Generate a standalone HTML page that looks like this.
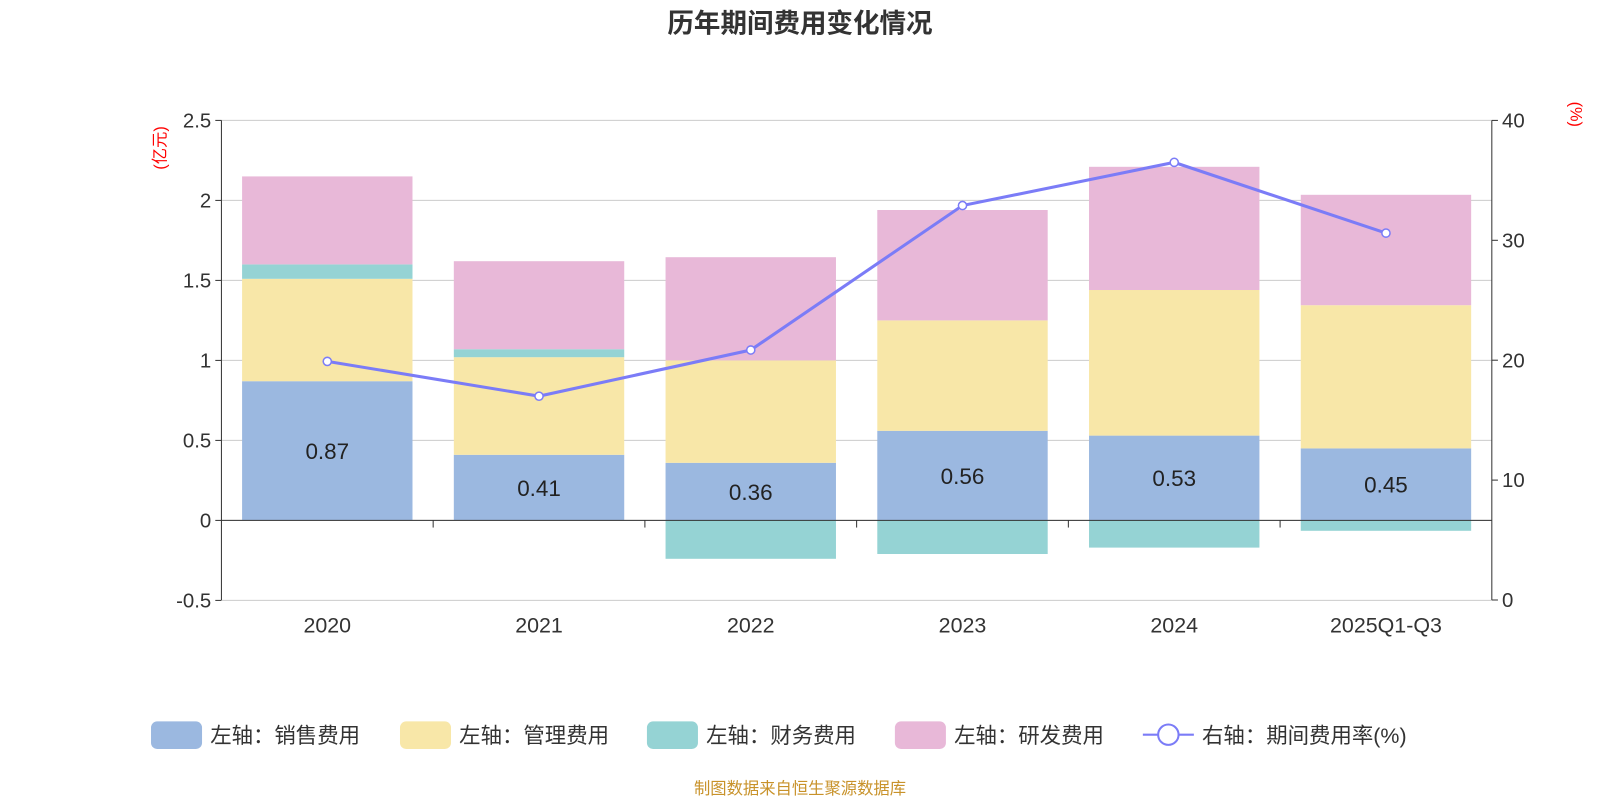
<!DOCTYPE html>
<html><head><meta charset="utf-8"><style>
body{margin:0;background:#fff;font-family:"Liberation Sans","Noto Sans CJK SC",sans-serif;}
svg text{font-family:"Liberation Sans","Noto Sans CJK SC",sans-serif;}
</style></head><body>
<svg width="1600" height="800">
<g id="c" transform="scale(1.0204)">
<text x="784" y="32" text-anchor="middle" font-size="26" font-weight="bold" fill="#333">历年期间费用变化情况</text>
<text x="784" y="778" text-anchor="middle" font-size="16" fill="#c8922a">制图数据来自恒生聚源数据库</text>
</g>
</svg>
<script>
const categories=["2020","2021","2022","2023","2024","2025Q1-Q3"];
const sales=[0.87,0.41,0.36,0.56,0.53,0.45];
const mgmt=[0.64,0.61,0.64,0.69,0.91,0.895];
const fin=[0.09,0.05,-0.24,-0.21,-0.17,-0.065];
const rnd=[0.55,0.55,0.645,0.69,0.77,0.69];
const rate=[19.9,17.0,20.85,32.9,36.5,30.6];
const leftTicks=[-0.5,0,0.5,1,1.5,2,2.5];
const rightTicks=[0,10,20,30,40];
const NS="http://www.w3.org/2000/svg";
const svg=document.getElementById('c');
const L=217,R=1462,T=118,B=588;
const yL=v=>510-(v)*156.8;
const yR=v=>B-(v)*(B-T)/40;
const bw=(R-L)/categories.length;
const xC=i=>L+bw*(i+0.5);
function mk(t,a){const e=document.createElementNS(NS,t);for(const k in a)e.setAttribute(k,a[k]);svg.appendChild(e);return e;}
leftTicks.forEach(v=>{
 let g=mk('line',{x1:L,x2:R,y1:yL(v),y2:yL(v),stroke:'#ccc'});
 
 
 let t=mk('text',{x:L-10,y:yL(v)+7,'text-anchor':'end','font-size':20,fill:'#333'});t.textContent=v;
 
 
 mk('line',{x1:L-6,x2:L,y1:yL(v),y2:yL(v),stroke:'#333'});
});
rightTicks.forEach(v=>{
 let t=mk('text',{x:R+10,y:yR(v)+7,'font-size':20,fill:'#333'});t.textContent=v;
 
 
 mk('line',{x1:R,x2:R+6,y1:yR(v),y2:yR(v),stroke:'#333'});
});
let u1=mk('text',{x:0,y:0,'font-size':16,fill:'red',transform:'translate(162,145) rotate(-90)','text-anchor':'middle'});u1.textContent='(亿元)';


let u2=mk('text',{x:0,y:0,'font-size':16,fill:'red',transform:'translate(1539,112) rotate(90)','text-anchor':'middle'});u2.textContent='(%)';


const colors=['#9bb8e0','#f8e7a8','#95d3d4','#e8b8d8'];
const series=[sales,mgmt,fin,rnd];const names=['sales','mgmt','fin','rnd'];
categories.forEach((c,i)=>{
 let pos=0,neg=0;const x=xC(i)-83.5;
 series.forEach((s,k)=>{
  const v=s[i];let y0,y1;
  if(v>=0){y0=pos;y1=pos+v;pos=y1;}else{y0=neg;y1=neg+v;neg=y1;}
  const r=mk('rect',{x:x,width:167,y:Math.min(yL(y0),yL(y1)),height:Math.abs(yL(y1)-yL(y0)),fill:colors[k]});
  
  
 });
 const t=mk('text',{x:xC(i),y:yL(sales[i]/2)+8,'text-anchor':'middle','font-size':22,fill:'#222'});t.textContent=sales[i].toFixed(2);
 
 
 const cl=mk('text',{x:xC(i),y:620,'text-anchor':'middle','font-size':21,fill:'#333'});cl.textContent=c;
 
 
 if(i>0)mk('line',{x1:L+bw*i,x2:L+bw*i,y1:510,y2:517,stroke:'#333'});
});
mk('line',{x1:L,x2:R,y1:510,y2:510,stroke:'#333'});
mk('line',{x1:L,x2:L,y1:T,y2:B,stroke:'#333'});
mk('line',{x1:R,x2:R,y1:T,y2:B,stroke:'#333'});
const pl=mk('polyline',{points:rate.map((v,i)=>xC(i)+','+yR(v)).join(' '),fill:'none',stroke:'#7b7cf7','stroke-width':3});


rate.forEach((v,i)=>{const p=mk('circle',{cx:xC(i),cy:yR(v),r:4,fill:'#fff',stroke:'#7b7cf7','stroke-width':1.5});
 
 });
const leg=[['左轴：销售费用',148],['左轴：管理费用',392],['左轴：财务费用',634],['左轴：研发费用',877]];
leg.forEach((l,k)=>{
 const r=mk('rect',{x:l[1],y:707,width:50,height:27,rx:6,fill:colors[k]});
 
 
 const t=mk('text',{x:l[1]+58,y:728,'font-size':21,fill:'#333'});t.textContent=l[0];
 
 
});
mk('line',{x1:1120,x2:1170,y1:720,y2:720,stroke:'#7b7cf7','stroke-width':2});
const lc=mk('circle',{cx:1145,cy:720,r:10,fill:'#fff',stroke:'#7b7cf7','stroke-width':2});


const lt=mk('text',{x:1178,y:728,'font-size':21,fill:'#333'});lt.textContent='右轴：期间费用率(%)';


</script>
</body></html>
